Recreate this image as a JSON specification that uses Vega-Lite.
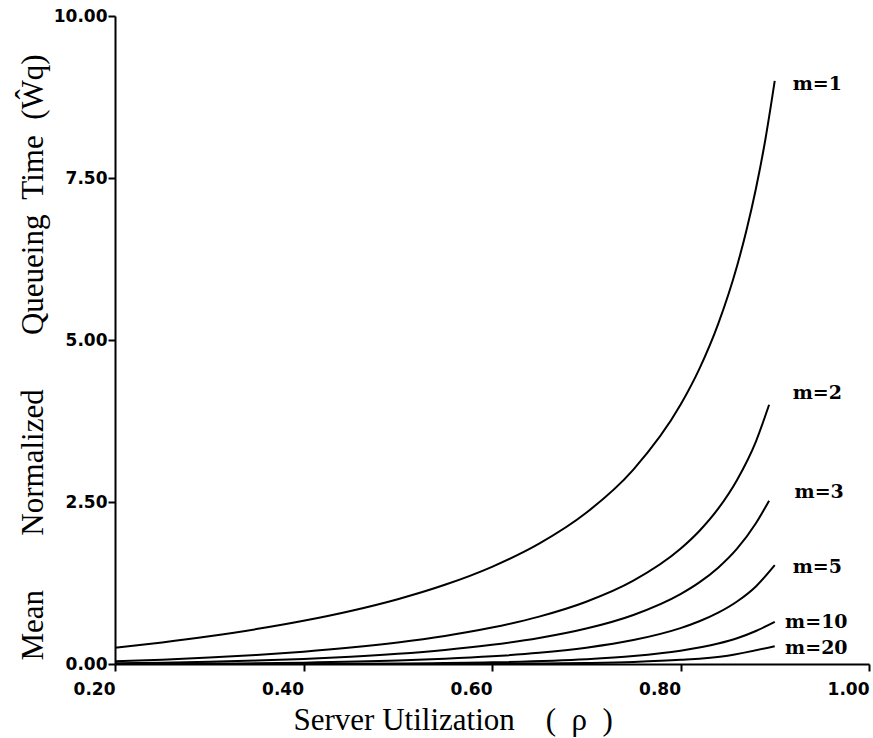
{
  "$schema": "https://vega.github.io/schema/vega-lite/v6.json",
  "width": 754,
  "height": 648,
  "autosize": {"type": "none"},
  "padding": {"left": 115, "top": 16, "right": 4, "bottom": 74},
  "background": "white",
  "config": {"view": {"stroke": null}, "axis": {"grid": false}},
  "datasets": {
    "curves": [
      {"m": "1", "rho": 0.20, "w": 0.25}, {"m": "1", "rho": 0.25, "w": 0.3333}, {"m": "1", "rho": 0.30, "w": 0.4286},
      {"m": "1", "rho": 0.35, "w": 0.5385}, {"m": "1", "rho": 0.40, "w": 0.6667}, {"m": "1", "rho": 0.45, "w": 0.8182},
      {"m": "1", "rho": 0.50, "w": 1.0}, {"m": "1", "rho": 0.55, "w": 1.2222}, {"m": "1", "rho": 0.60, "w": 1.5},
      {"m": "1", "rho": 0.65, "w": 1.8571}, {"m": "1", "rho": 0.70, "w": 2.3333}, {"m": "1", "rho": 0.75, "w": 3.0},
      {"m": "1", "rho": 0.80, "w": 4.0}, {"m": "1", "rho": 0.82, "w": 4.5556}, {"m": "1", "rho": 0.84, "w": 5.25},
      {"m": "1", "rho": 0.86, "w": 6.1429}, {"m": "1", "rho": 0.87, "w": 6.6923}, {"m": "1", "rho": 0.88, "w": 7.3333},
      {"m": "1", "rho": 0.89, "w": 8.0909}, {"m": "1", "rho": 0.90, "w": 9.0},
      {"m": "2", "rho": 0.20, "w": 0.0417}, {"m": "2", "rho": 0.25, "w": 0.0667}, {"m": "2", "rho": 0.30, "w": 0.0989},
      {"m": "2", "rho": 0.35, "w": 0.1396}, {"m": "2", "rho": 0.40, "w": 0.1905}, {"m": "2", "rho": 0.45, "w": 0.2539},
      {"m": "2", "rho": 0.50, "w": 0.3333}, {"m": "2", "rho": 0.55, "w": 0.4337}, {"m": "2", "rho": 0.60, "w": 0.5625},
      {"m": "2", "rho": 0.65, "w": 0.7316}, {"m": "2", "rho": 0.70, "w": 0.9608}, {"m": "2", "rho": 0.75, "w": 1.2857},
      {"m": "2", "rho": 0.80, "w": 1.7778}, {"m": "2", "rho": 0.82, "w": 2.0525}, {"m": "2", "rho": 0.84, "w": 2.3967},
      {"m": "2", "rho": 0.86, "w": 2.8403}, {"m": "2", "rho": 0.88, "w": 3.4326}, {"m": "2", "rho": 0.894, "w": 4.0},
      {"m": "3", "rho": 0.20, "w": 0.0103}, {"m": "3", "rho": 0.25, "w": 0.0196}, {"m": "3", "rho": 0.30, "w": 0.0333},
      {"m": "3", "rho": 0.35, "w": 0.0525}, {"m": "3", "rho": 0.40, "w": 0.0784}, {"m": "3", "rho": 0.45, "w": 0.1128},
      {"m": "3", "rho": 0.50, "w": 0.1579}, {"m": "3", "rho": 0.55, "w": 0.2172}, {"m": "3", "rho": 0.60, "w": 0.2956},
      {"m": "3", "rho": 0.65, "w": 0.4012}, {"m": "3", "rho": 0.70, "w": 0.5470}, {"m": "3", "rho": 0.75, "w": 0.7570},
      {"m": "3", "rho": 0.80, "w": 1.0787}, {"m": "3", "rho": 0.82, "w": 1.2593}, {"m": "3", "rho": 0.84, "w": 1.4864},
      {"m": "3", "rho": 0.86, "w": 1.7796}, {"m": "3", "rho": 0.88, "w": 2.1722}, {"m": "3", "rho": 0.894, "w": 2.52},
      {"m": "5", "rho": 0.20, "w": 0.001}, {"m": "5", "rho": 0.30, "w": 0.0058}, {"m": "5", "rho": 0.40, "w": 0.0199},
      {"m": "5", "rho": 0.50, "w": 0.0521}, {"m": "5", "rho": 0.55, "w": 0.0795}, {"m": "5", "rho": 0.60, "w": 0.1181},
      {"m": "5", "rho": 0.65, "w": 0.1729}, {"m": "5", "rho": 0.70, "w": 0.2519}, {"m": "5", "rho": 0.75, "w": 0.3694},
      {"m": "5", "rho": 0.80, "w": 0.5541}, {"m": "5", "rho": 0.82, "w": 0.6592}, {"m": "5", "rho": 0.84, "w": 0.7922},
      {"m": "5", "rho": 0.86, "w": 0.9650}, {"m": "5", "rho": 0.88, "w": 1.1973}, {"m": "5", "rho": 0.90, "w": 1.525},
      {"m": "10", "rho": 0.20, "w": 0.0}, {"m": "10", "rho": 0.30, "w": 0.0001}, {"m": "10", "rho": 0.40, "w": 0.0015},
      {"m": "10", "rho": 0.50, "w": 0.0072}, {"m": "10", "rho": 0.60, "w": 0.0253}, {"m": "10", "rho": 0.70, "w": 0.0739},
      {"m": "10", "rho": 0.75, "w": 0.1226}, {"m": "10", "rho": 0.80, "w": 0.2046}, {"m": "10", "rho": 0.84, "w": 0.3152},
      {"m": "10", "rho": 0.86, "w": 0.3973}, {"m": "10", "rho": 0.88, "w": 0.5092}, {"m": "10", "rho": 0.90, "w": 0.65},
      {"m": "20", "rho": 0.20, "w": 0.0}, {"m": "20", "rho": 0.50, "w": 0.0002}, {"m": "20", "rho": 0.60, "w": 0.0030},
      {"m": "20", "rho": 0.70, "w": 0.0156}, {"m": "20", "rho": 0.75, "w": 0.0316}, {"m": "20", "rho": 0.80, "w": 0.0640},
      {"m": "20", "rho": 0.85, "w": 0.1284}, {"m": "20", "rho": 0.90, "w": 0.2754}
    ],
    "labels": [
      {"label": "m=1", "rho": 0.919, "w": 8.95},
      {"label": "m=2", "rho": 0.919, "w": 4.18},
      {"label": "m=3", "rho": 0.921, "w": 2.65},
      {"label": "m=5", "rho": 0.919, "w": 1.50},
      {"label": "m=10", "rho": 0.911, "w": 0.65},
      {"label": "m=20", "rho": 0.911, "w": 0.25}
    ]
  },
  "layer": [
    {
      "data": {"name": "curves"},
      "mark": {"type": "line", "color": "black", "strokeWidth": 2, "interpolate": "monotone", "clip": true},
      "encoding": {
        "x": {
          "field": "rho", "type": "quantitative",
          "scale": {"domain": [0.2, 1.0], "nice": false, "zero": false},
          "axis": {
            "values": [0.2, 0.4, 0.6, 0.8, 1.0], "format": ".2f",
            "title": "Server Utilization\u00a0\u00a0\u00a0 (\u00a0\u00a0ρ\u00a0\u00a0)",
            "titleFont": "Liberation Serif", "titleFontSize": 31, "titleFontWeight": "normal", "titleColor": "black",
            "titleAlign": "left", "titleBaseline": "alphabetic", "titleX": 178, "titleY": 65,
            "labelFont": "DejaVu Sans", "labelFontWeight": "bold", "labelFontSize": 17, "labelColor": "black",
            "labelAlign": "right", "labelFlush": false, "labelOverlap": false, "labelPadding": 10,
            "tickSize": 7, "tickColor": "black", "tickWidth": 2, "domainColor": "black", "domainWidth": 2
          }
        },
        "y": {
          "field": "w", "type": "quantitative",
          "scale": {"domain": [0, 10], "nice": false},
          "axis": {
            "values": [0, 2.5, 5, 7.5, 10], "format": ".2f",
            "title": "Mean\u00a0\u00a0\u00a0\u00a0\u00a0\u00a0 Normalized\u00a0\u00a0\u00a0\u00a0\u00a0\u00a0 Queueing\u00a0 Time\u00a0 (Ŵq)",
            "titleFont": "Liberation Serif", "titleFontSize": 31, "titleFontWeight": "normal", "titleColor": "black",
            "titleAngle": 270, "titleAlign": "left", "titleBaseline": "alphabetic", "titleX": -73, "titleY": 644,
            "labelFont": "DejaVu Sans", "labelFontWeight": "bold", "labelFontSize": 17, "labelColor": "black",
            "labelPadding": 1, "labelOverlap": false, "labelFlush": false,
            "tickSize": 7, "tickColor": "black", "tickWidth": 2, "domainColor": "black", "domainWidth": 2
          }
        },
        "detail": {"field": "m"}
      }
    },
    {
      "data": {"name": "labels"},
      "mark": {"type": "text", "align": "left", "baseline": "middle", "font": "DejaVu Serif", "fontWeight": "bold", "fontSize": 19, "color": "black"},
      "encoding": {
        "x": {"field": "rho", "type": "quantitative"},
        "y": {"field": "w", "type": "quantitative"},
        "text": {"field": "label"}
      }
    }
  ]
}
